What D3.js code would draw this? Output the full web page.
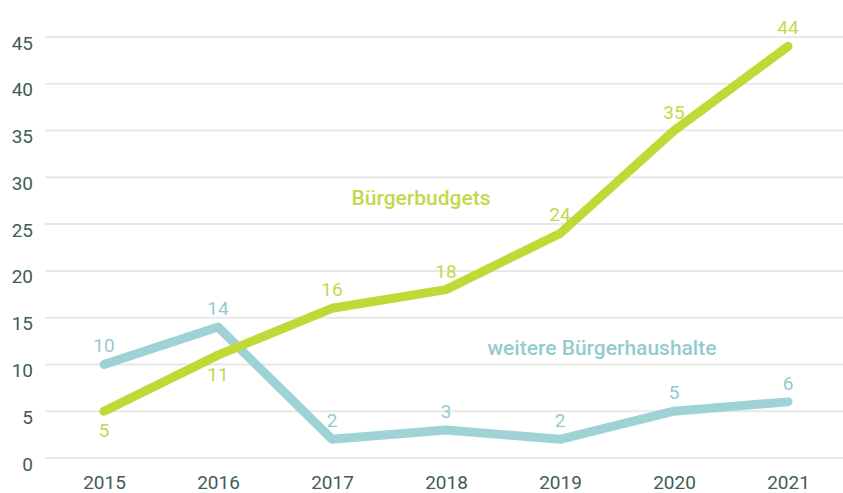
<!DOCTYPE html>
<html>
<head>
<meta charset="utf-8">
<script src="https://cdn.jsdelivr.net/npm/d3@7"></script>
<style>
  body { margin: 0; background: #fff; }
  svg { display: block; font-family: Roboto, "Noto Sans", sans-serif; }
</style>
</head>
<body>
<div id="chart"></div>
<script>
  // Data
  var years = ['2015', '2016', '2017', '2018', '2019', '2020', '2021'];
  var buergerbudgets = [5, 11, 16, 18, 24, 35, 44];
  var weitere = [10, 14, 2, 3, 2, 5, 6];
  var yTicks = [0, 5, 10, 15, 20, 25, 30, 35, 40, 45];
  // label placement per point: -1 above, 1 below
  var budgetLabelSide = [1, 1, -1, -1, -1, -1, -1];
  var weitereLabelSide = [-1, -1, -1, -1, -1, -1, -1];

  var width = 843, height = 493;
  var margin = { left: 45 };

  var svg = d3.select('#chart').append('svg')
    .attr('width', width).attr('height', height);

  var x = d3.scalePoint().domain(years).range([104, 788]);
  var y = d3.scaleLinear().domain([0, 45]).range([458, 37]);

  // Grid
  svg.append('g').selectAll('line')
    .data(yTicks).enter().append('line')
    .attr('x1', margin.left).attr('x2', width)
    .attr('y1', function (d) { return y(d); }).attr('y2', function (d) { return y(d); })
    .attr('stroke', '#e8e8e8').attr('stroke-width', 2);

  // Y axis labels (sit a little below their grid line)
  var yAxis = svg.append('g')
    .attr('transform', 'translate(33,6)')
    .call(d3.axisLeft(y).tickValues(yTicks).tickSize(0).tickPadding(0));
  yAxis.select('.domain').remove();
  yAxis.selectAll('text')
    .style('font-size', '19px').style('font-family', 'Roboto, sans-serif')
    .attr('fill', '#3f5c57');

  // X axis labels
  var xAxis = svg.append('g')
    .attr('transform', 'translate(0,475)')
    .call(d3.axisBottom(x).tickSize(0).tickPadding(0));
  xAxis.select('.domain').remove();
  xAxis.selectAll('text')
    .style('font-size', '19px').style('font-family', 'Roboto, sans-serif')
    .attr('fill', '#3f5c57');

  var line = d3.line()
    .x(function (d, i) { return x(years[i]); })
    .y(function (d) { return y(d); });

  var series = [
    { name: 'weitere Bürgerhaushalte', values: weitere, sides: weitereLabelSide,
      stroke: '#9fd2d4', text: '#93cbcf', labelX: 602, labelY: 355 },
    { name: 'Bürgerbudgets', values: buergerbudgets, sides: budgetLabelSide,
      stroke: '#c0d936', text: '#c3d84c', labelX: 421, labelY: 205 }
  ];

  series.forEach(function (s) {
    svg.append('path')
      .datum(s.values)
      .attr('d', line)
      .attr('fill', 'none')
      .attr('stroke', s.stroke)
      .attr('stroke-width', 9)
      .attr('stroke-linecap', 'round')
      .attr('stroke-linejoin', 'round');

    svg.append('g').selectAll('text')
      .data(s.values).enter().append('text')
      .attr('x', function (d, i) { return x(years[i]); })
      .attr('y', function (d, i) { return y(d) + (s.sides[i] < 0 ? -12 : 26); })
      .attr('text-anchor', 'middle')
      .style('font-size', '19px')
      .attr('fill', s.text)
      .text(function (d) { return d; });

    svg.append('text')
      .attr('x', s.labelX).attr('y', s.labelY)
      .attr('text-anchor', 'middle')
      .style('font-size', '21px').style('font-weight', 500)
      .attr('fill', s.text)
      .text(s.name);
  });
</script>
</body>
</html>
